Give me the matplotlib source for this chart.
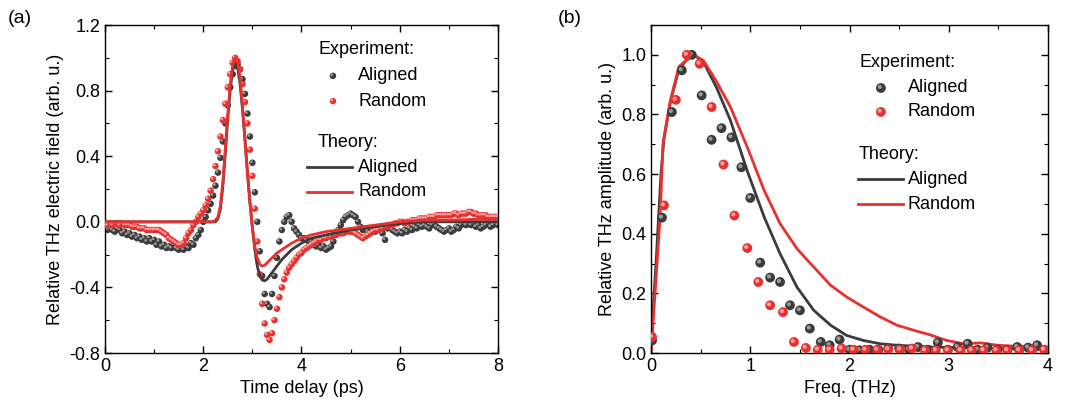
import numpy as np
import matplotlib
matplotlib.use("Agg")
import matplotlib.pyplot as plt
from matplotlib.ticker import MultipleLocator
from matplotlib.transforms import offset_copy

plt.rcParams.update({
    "font.family": ["Liberation Sans", "DejaVu Sans"],
    "font.size": 12,
    "axes.linewidth": 1.0,
})

GRAY = "#3b3b3b"
GRAY_HI = "#9a9a9a"
RED = "#e8312f"
RED_HI = "#f8a0a0"

# ---------------------------------------------------------------------------
# (a) time domain
# ---------------------------------------------------------------------------
t_exp = np.round(np.arange(0, 8.001, 0.05), 2)

e_random = [
    -0.02, -0.02, -0.01, -0.02, -0.01, -0.01, -0.02, -0.01, -0.02, -0.02,
    -0.02, -0.03, -0.03, -0.03, -0.04, -0.04, -0.04, -0.05, -0.05, -0.05,
    -0.05, -0.05, -0.05, -0.06, -0.07, -0.08, -0.10, -0.11, -0.12, -0.13,
    -0.14, -0.14, -0.13, -0.10, -0.07, -0.05, -0.02, 0.00, 0.03, 0.05,
    0.07, 0.10, 0.14, 0.19, 0.26, 0.34, 0.43, 0.52, 0.62, 0.72,
    0.82, 0.90, 0.97, 1.00, 0.98, 0.93, 0.84, 0.73, 0.60, 0.44,
    0.28, 0.08, -0.12, -0.32, -0.50, -0.62, -0.69, -0.72, -0.68, -0.60,
    -0.53, -0.46, -0.40, -0.35, -0.31, -0.28, -0.26, -0.24, -0.22, -0.20,
    -0.19, -0.17, -0.16, -0.15, -0.14, -0.13, -0.12, -0.11, -0.11, -0.10,
    -0.10, -0.09, -0.09, -0.08, -0.08, -0.07, -0.07, -0.07, -0.06, -0.06,
    -0.06, -0.06, -0.07, -0.08, -0.09, -0.10, -0.09, -0.08, -0.07, -0.06,
    -0.05, -0.05, -0.04, -0.04, -0.03, -0.03, -0.02, -0.02, -0.01, -0.01,
    0.00, 0.00, -0.01, 0.00, 0.00, 0.01, 0.01, 0.01, 0.02, 0.02,
    0.02, 0.02, 0.03, 0.03, 0.03, 0.04, 0.04, 0.04, 0.04, 0.04,
    0.04, 0.04, 0.05, 0.05, 0.04, 0.05, 0.05, 0.05, 0.06, 0.06,
    0.05, 0.05, 0.04, 0.04, 0.04, 0.04, 0.03, 0.03, 0.03, 0.03,
    0.03,
]

e_aligned = [
    -0.03, -0.05, -0.04, -0.05, -0.06, -0.04, -0.05, -0.07, -0.06, -0.08,
    -0.07, -0.09, -0.08, -0.10, -0.09, -0.11, -0.10, -0.12, -0.10, -0.12,
    -0.11, -0.14, -0.12, -0.15, -0.14, -0.16, -0.15, -0.16, -0.14, -0.16,
    -0.17, -0.16, -0.17, -0.15, -0.16, -0.13, -0.14, -0.10, -0.08, -0.05,
    0.00, 0.03, 0.07, 0.11, 0.16, 0.22, 0.30, 0.39, 0.49, 0.60,
    0.71, 0.82, 0.90, 0.95, 0.96, 0.93, 0.87, 0.78, 0.66, 0.52,
    0.36, 0.18, 0.00, -0.18, -0.33, -0.44, -0.50, -0.52, -0.44, -0.33,
    -0.22, -0.12, -0.05, 0.00, 0.03, 0.04, 0.00, -0.04, -0.06, -0.08,
    -0.10, -0.10, -0.11, -0.12, -0.12, -0.14, -0.15, -0.14, -0.16, -0.15,
    -0.17, -0.16, -0.15, -0.12, -0.08, -0.05, -0.02, 0.01, 0.03, 0.04,
    0.05, 0.04, 0.03, 0.00, -0.03, -0.05, -0.04, -0.06, -0.07, -0.05,
    -0.06, -0.04, -0.05, -0.07, -0.11, -0.04, -0.03, -0.05, -0.06, -0.07,
    -0.06, -0.07, -0.05, -0.06, -0.04, -0.05, -0.03, -0.04, -0.02, -0.03,
    -0.02, -0.03, -0.04, -0.02, -0.01, -0.03, -0.04, -0.05, -0.06, -0.05,
    -0.04, -0.06, -0.05, -0.03, -0.04, -0.02, -0.01, -0.02, -0.01, -0.02,
    -0.01, -0.03, -0.02, -0.04, -0.03, -0.02, -0.01, -0.03, -0.02, -0.01,
    -0.02,
]

t_th_random = [0, 1, 2, 2.2, 2.25, 2.3, 2.35, 2.4, 2.45, 2.5, 2.55, 2.6, 2.65,
               2.7, 2.75, 2.8, 2.85, 2.9, 2.95, 3.0, 3.05, 3.1, 3.15, 3.2, 3.25,
               3.3, 3.4, 3.5, 3.6, 3.7, 3.8, 3.9, 4.0, 4.2, 4.5, 5.0, 5.5, 6.0,
               6.5, 7.0, 7.5, 8.0]
th_random = [0, 0, 0, 0.0, 0.01, 0.03, 0.10, 0.25, 0.45, 0.66, 0.84, 0.96, 1.0,
             0.97, 0.88, 0.70, 0.50, 0.30, 0.12, -0.03, -0.15, -0.22, -0.26,
             -0.27, -0.265, -0.25, -0.22, -0.19, -0.17, -0.15, -0.13, -0.115,
             -0.10, -0.08, -0.06, -0.04, -0.02, 0.0, 0.01, 0.01, 0.015, 0.015]

t_th_aligned = [0, 1, 2, 2.25, 2.3, 2.35, 2.4, 2.45, 2.5, 2.55, 2.6, 2.65, 2.7,
                2.75, 2.8, 2.85, 2.9, 2.95, 3.0, 3.05, 3.1, 3.15, 3.2, 3.25, 3.3,
                3.4, 3.5, 3.6, 3.7, 3.8, 3.9, 4.0, 4.2, 4.5, 5.0, 5.5, 6.0, 6.5,
                7.0, 7.5, 8.0]
th_aligned = [0, 0, 0, 0.0, 0.02, 0.08, 0.22, 0.42, 0.63, 0.81, 0.93, 0.97, 0.94,
              0.84, 0.68, 0.50, 0.30, 0.12, -0.04, -0.17, -0.27, -0.33, -0.355,
              -0.36, -0.35, -0.31, -0.27, -0.23, -0.20, -0.17, -0.15, -0.13,
              -0.10, -0.08, -0.05, -0.03, -0.01, 0.0, 0.0, 0.0, 0.0]

# ---------------------------------------------------------------------------
# (b) frequency domain
# ---------------------------------------------------------------------------
f_aligned = [0.01, 0.11, 0.21, 0.31, 0.41, 0.51, 0.61, 0.71, 0.81, 0.91,
             1.00, 1.10, 1.20, 1.30, 1.40, 1.50, 1.60, 1.71, 1.80, 1.90,
             2.00, 2.10, 2.20, 2.29, 2.39, 2.50, 2.60, 2.69, 2.79, 2.89,
             2.99, 3.09, 3.19, 3.29, 3.39, 3.49, 3.59, 3.69, 3.80, 3.89]
a_aligned = [0.042, 0.454, 0.808, 0.948, 1.0, 0.864, 0.715, 0.754, 0.723, 0.623,
             0.52, 0.303, 0.253, 0.238, 0.16, 0.143, 0.082, 0.037, 0.026, 0.045,
             0.011, 0.009, 0.011, 0.011, 0.015, 0.015, 0.011, 0.02, 0.011, 0.035,
             0.011, 0.02, 0.031, 0.011, 0.018, 0.011, 0.011, 0.02, 0.018, 0.026]

f_random = [0.01, 0.13, 0.25, 0.36, 0.49, 0.61, 0.73, 0.84, 0.97, 1.08,
            1.20, 1.33, 1.44, 1.56, 1.68, 1.80, 1.92, 2.04, 2.16, 2.28,
            2.39, 2.51, 2.63, 2.76, 2.87, 2.99, 3.12, 3.23, 3.35, 3.48,
            3.59, 3.71, 3.84, 3.96]
a_random = [0.054, 0.495, 0.849, 1.0, 0.97, 0.825, 0.632, 0.461, 0.352, 0.238,
            0.16, 0.137, 0.037, 0.017, 0.011, 0.011, 0.015, 0.011, 0.011, 0.011,
            0.012, 0.011, 0.015, 0.009, 0.009, 0.009, 0.009, 0.009, 0.009, 0.009,
            0.009, 0.009, 0.009, 0.011]

f_th_random = [0, 0.04, 0.09, 0.12, 0.19, 0.28, 0.38, 0.43, 0.53, 0.66, 0.80,
               0.97, 1.14, 1.30, 1.47, 1.64, 1.81, 1.97, 2.14, 2.31, 2.48, 2.65,
               2.81, 2.98, 3.15, 3.32, 3.49, 3.65, 3.82, 4.0]
th_amp_random = [0.0, 0.20, 0.45, 0.70, 0.84, 0.96, 0.99, 1.0, 0.98, 0.91, 0.825,
                 0.69, 0.545, 0.434, 0.35, 0.288, 0.227, 0.188, 0.154, 0.121,
                 0.093, 0.076, 0.061, 0.042, 0.031, 0.034, 0.026, 0.023, 0.022,
                 0.02]

f_th_aligned = [0, 0.05, 0.10, 0.13, 0.20, 0.28, 0.35, 0.43, 0.53, 0.66, 0.80,
                0.97, 1.14, 1.30, 1.47, 1.64, 1.81, 1.97, 2.14, 2.31, 2.48, 2.81,
                3.15, 3.49, 4.0]
th_amp_aligned = [0.04, 0.30, 0.60, 0.72, 0.85, 0.95, 0.98, 1.0, 0.975, 0.89,
                  0.78, 0.61, 0.456, 0.333, 0.221, 0.143, 0.093, 0.059, 0.042,
                  0.031, 0.026, 0.02, 0.018, 0.015, 0.011]


def spheres(ax, x, y, color, hi, size, zorder=3):
    """Origin-style shaded ball markers."""
    ax.scatter(x, y, s=size, color=color, edgecolors="none", zorder=zorder)
    tr = offset_copy(ax.transData, fig=ax.figure, x=-0.8, y=0.8, units="points")
    ax.scatter(x, y, s=size * 0.18, color=hi, edgecolors="none",
               zorder=zorder + 0.1, transform=tr)


def style_axes(ax):
    ax.tick_params(which="both", direction="in", top=True, right=True,
                   labelsize=13)
    ax.tick_params(which="major", length=5, width=1.0)
    ax.tick_params(which="minor", length=3, width=0.8)


def legend_block(ax, x0, ys, marker_x, line_x, text_x, ms):
    y_exp, y_ma, y_mr, y_th, y_la, y_lr = ys
    kw = dict(transform=ax.transAxes, fontsize=13, va="center", ha="left")
    ax.text(x0, y_exp, "Experiment:", **kw)
    for yy, c, h, lab in [(y_ma, GRAY, GRAY_HI, "Aligned"), (y_mr, RED, RED_HI, "Random")]:
        ax.scatter([marker_x], [yy], s=ms, color=c, transform=ax.transAxes,
                   edgecolors="none", zorder=5)
        tr = offset_copy(ax.transAxes, fig=ax.figure, x=-0.8, y=0.8, units="points")
        ax.scatter([marker_x], [yy], s=ms * 0.18, color=h, transform=tr,
                   edgecolors="none", zorder=5.1)
        ax.text(text_x, yy, lab, **kw)
    ax.text(x0, y_th, "Theory:", **kw)
    for yy, c, lab in [(y_la, GRAY, "Aligned"), (y_lr, RED, "Random")]:
        ax.plot(line_x, [yy, yy], color=c, lw=2.0, transform=ax.transAxes)
        ax.text(text_x, yy, lab, **kw)


fig = plt.figure(figsize=(10.68, 4.19), dpi=100)
ax1 = fig.add_axes([0.0983, 0.1575, 0.368, 0.7828])
ax2 = fig.add_axes([0.6096, 0.1575, 0.3717, 0.7828])

# ---- panel (a)
ax1.plot(t_th_aligned, th_aligned, color=GRAY, lw=2.0, zorder=4)
ax1.plot(t_th_random, th_random, color=RED, lw=2.0, zorder=4)
spheres(ax1, t_exp, e_aligned, GRAY, GRAY_HI, 22, zorder=2)
spheres(ax1, t_exp, e_random, RED, RED_HI, 22, zorder=3)
ax1.set_xlim(0, 8)
ax1.set_ylim(-0.8, 1.2)
ax1.xaxis.set_major_locator(MultipleLocator(2))
ax1.xaxis.set_minor_locator(MultipleLocator(1))
ax1.yaxis.set_major_locator(MultipleLocator(0.4))
ax1.yaxis.set_minor_locator(MultipleLocator(0.2))
ax1.yaxis.set_major_formatter(matplotlib.ticker.FuncFormatter(lambda v, p: f"{v:.1f}"))
style_axes(ax1)
ax1.set_xlabel("Time delay (ps)", fontsize=13, labelpad=4)
ax1.set_ylabel("Relative THz electric field (arb. u.)", fontsize=13, labelpad=4)
legend_block(ax1, 0.542, (0.924, 0.845, 0.768, 0.643, 0.567, 0.491),
             0.58, [0.514, 0.628], 0.644, 22)

# ---- panel (b)
ax2.plot(f_th_aligned, th_amp_aligned, color=GRAY, lw=2.0, zorder=2)
ax2.plot(f_th_random, th_amp_random, color=RED, lw=2.0, zorder=2)
spheres(ax2, f_aligned, a_aligned, GRAY, GRAY_HI, 50, zorder=3)
spheres(ax2, f_random, a_random, RED, RED_HI, 50, zorder=4)
ax2.set_xlim(0, 4)
ax2.set_ylim(0, 1.1)
ax2.xaxis.set_major_locator(MultipleLocator(1))
ax2.xaxis.set_minor_locator(MultipleLocator(0.5))
ax2.yaxis.set_major_locator(MultipleLocator(0.2))
ax2.yaxis.set_minor_locator(MultipleLocator(0.1))
ax2.yaxis.set_major_formatter(matplotlib.ticker.FuncFormatter(lambda v, p: f"{v:.1f}"))
style_axes(ax2)
ax2.set_xlabel("Freq. (THz)", fontsize=13, labelpad=4)
ax2.set_ylabel("Relative THz amplitude (arb. u.)", fontsize=13, labelpad=4)
legend_block(ax2, 0.524, (0.887, 0.808, 0.735, 0.604, 0.53, 0.454),
             0.579, [0.521, 0.635], 0.647, 50)

fig.text(0.007, 0.957, "(a)", fontsize=14, va="center", ha="left")
fig.text(0.522, 0.957, "(b)", fontsize=14, va="center", ha="left")

fig.savefig("out.png", dpi=100)
